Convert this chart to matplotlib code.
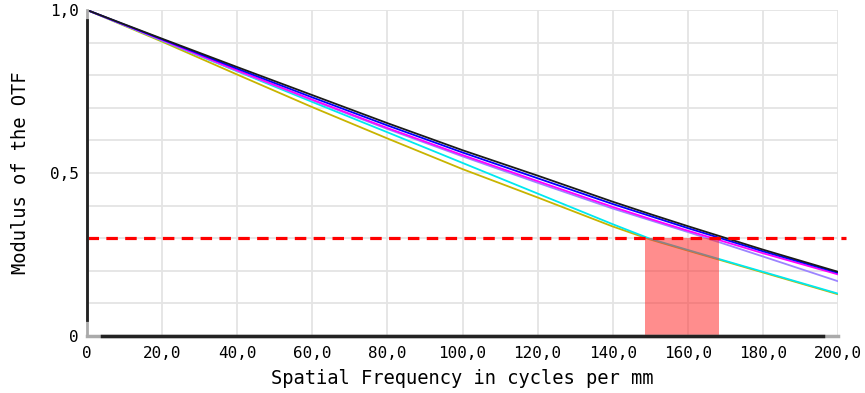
import numpy as np
import matplotlib.pyplot as plt

freq = [0, 20, 40, 60, 80, 100, 120, 140, 150, 160, 180, 200]

mtf_black = [1.0, 0.912, 0.825, 0.739, 0.653, 0.570, 0.492, 0.412, 0.374, 0.337, 0.265, 0.197]
mtf_blue = [1.0, 0.910, 0.820, 0.732, 0.646, 0.563, 0.484, 0.405, 0.368, 0.331, 0.260, 0.194]
mtf_magenta = [1.0, 0.908, 0.815, 0.725, 0.638, 0.555, 0.475, 0.396, 0.359, 0.323, 0.254, 0.189]
mtf_purple = [1.0, 0.907, 0.813, 0.723, 0.635, 0.551, 0.470, 0.391, 0.355, 0.319, 0.244, 0.168]
mtf_cyan = [1.0, 0.906, 0.812, 0.718, 0.625, 0.531, 0.437, 0.343, 0.298, 0.264, 0.197, 0.130]
mtf_yellow = [1.0, 0.903, 0.802, 0.702, 0.606, 0.512, 0.425, 0.336, 0.296, 0.262, 0.195, 0.128]

threshold = 0.3
band = (148.6, 168.4)

xticks = [0, 20, 40, 60, 80, 100, 120, 140, 160, 180, 200]
xticklabels = ['0', '20,0', '40,0', '60,0', '80,0', '100,0', '120,0', '140,0', '160,0', '180,0', '200,0']
yticks = [0, 0.5, 1.0]
yticklabels = ['0', '0,5', '1,0']

plt.rcParams['font.family'] = 'DejaVu Sans Mono'

fig = plt.figure(figsize=(8.65, 3.93), dpi=100)
ax = fig.add_axes([0.1006, 0.145, 0.8682, 0.8295])

ax.plot(freq, mtf_yellow, color='#c8b400', lw=1.3, zorder=3)
ax.plot(freq, mtf_cyan, color='#00e8f0', lw=1.3, zorder=3)
ax.plot(freq, mtf_purple, color='#9c84ff', lw=1.3, zorder=3)
ax.plot(freq, mtf_magenta, color='#ff00ff', lw=1.3, zorder=3)
ax.plot(freq, mtf_blue, color='#0000ff', lw=1.3, zorder=3)
ax.plot(freq, mtf_black, color='#1a1a1a', lw=1.3, zorder=3)

ax.fill_between([band[0], band[1]], 0, threshold, color='#ff3030', alpha=0.55,
                lw=0, zorder=4)
ax.plot([0, 202], [threshold, threshold], color='#ff0000', lw=2.3,
        dashes=(3.6, 2.3), zorder=5, clip_on=False)

ax.set_xlim(0, 200)
ax.set_ylim(0, 1.0)
ax.set_xticks(np.arange(0, 201, 20))
ax.set_yticks(np.arange(0, 1.01, 0.1), minor=True)
ax.grid(True, which='both', color='#e4e4e4', lw=1.3, zorder=0)
ax.set_xticks(xticks)
ax.set_xticklabels(xticklabels)
ax.set_yticks(yticks)
ax.set_yticklabels(yticklabels)
ax.tick_params(axis='both', which='both', length=0, labelsize=11.5)
ax.tick_params(axis='x', pad=7)
ax.tick_params(axis='y', pad=6)

for s in ax.spines.values():
    s.set_visible(False)
ax.axhline(0, xmin=0, xmax=1, color='#aaaaaa', lw=2.5, zorder=6, clip_on=False)
ax.axhline(0, xmin=0.02, xmax=0.98, color='#222222', lw=2.5, zorder=6, clip_on=False)
ax.axvline(0, ymin=0, ymax=1, color='#aaaaaa', lw=2, zorder=6, clip_on=False)
ax.axvline(0, ymin=0.05, ymax=0.97, color='#222222', lw=2, zorder=6, clip_on=False)

ax.set_xlabel('Spatial Frequency in cycles per mm', fontsize=13.5, labelpad=6)
ax.set_ylabel('Modulus of the OTF', fontsize=13.5, labelpad=14)

fig.savefig('out.png', dpi=100)
